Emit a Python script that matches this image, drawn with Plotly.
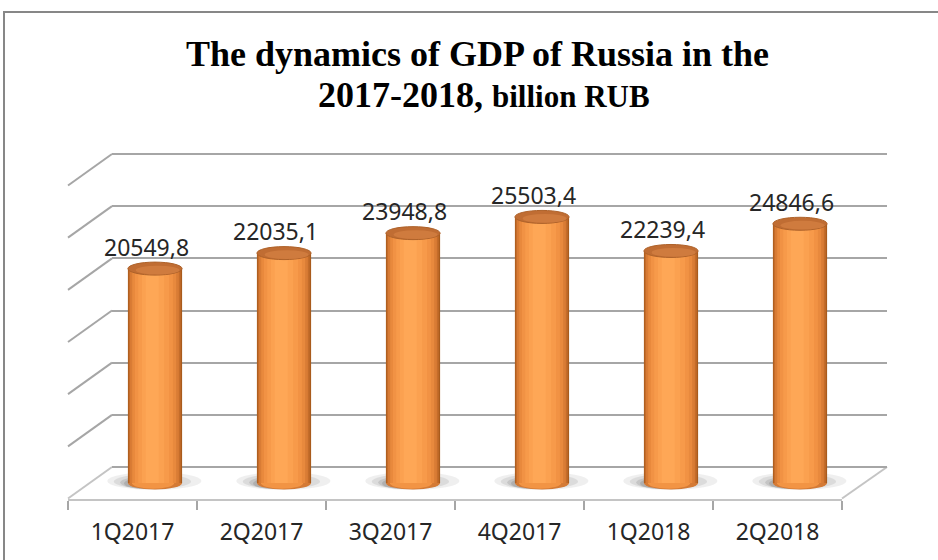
import plotly.graph_objects as go

# ---------------- data ----------------
categories = ["1Q2017", "2Q2017", "3Q2017", "4Q2017", "1Q2018", "2Q2018"]
gdp = [20549.8, 22035.1, 23948.8, 25503.4, 22239.4, 24846.6]
grid_values = [0, 5000, 10000, 15000, 20000, 25000, 30000]
title_line1 = "The dynamics of GDP of Russia in the"
title_line2a = "2017-2018,"
title_line2b = "billion RUB"

# ---------------- geometry (pixels) ----------------
W, H = 938, 560
def px(x): return x / W
def py(y): return 1 - y / H

YMAX = 30000
BACK_L, BACK_R, BACK_BASE, BACK_TOP = 112, 887, 467, 154
FRONT_L, FRONT_R, FRONT_BASE = 68, 842, 498.5
MID_L, MID_R, MID_BASE = 90.5, 864.5, 483
SPAN = BACK_BASE - BACK_TOP
U = YMAX / SPAN          # data units per pixel
BW = 0.42                # bar width in category units
GRID = "#a6a6a6"
FLOOR = "#c4c4c4"
TXT = "#262626"

fig = go.Figure()

# back wall subplot (x/y) - only gridlines
fig.add_trace(go.Scatter(x=[0.5], y=[0], xaxis="x", yaxis="y", mode="markers",
                         marker=dict(opacity=0), hoverinfo="skip", showlegend=False))

# cylinder bars (x2/y2): nested layers give the cylindrical shading
layers = [
    (0.00, 1.00, "#A95B1C"),
    (0.015, 0.975, "#C46C2A"),
    (0.04, 0.94, "#D97C35"),
    (0.08, 0.89, "#E8893D"),
    (0.13, 0.83, "#F19244"),
    (0.19, 0.76, "#F79A4A"),
    (0.26, 0.67, "#FBA150"),
    (0.33, 0.57, "#FEA756"),
]
for l, r, c in layers:
    fig.add_trace(go.Bar(
        x=categories, y=gdp, xaxis="x2", yaxis="y2",
        width=(r - l) * BW, offset=-BW / 2 + l * BW,
        marker=dict(color=c, line=dict(width=0)),
        hoverinfo="skip", showlegend=False))

# front category axis (x3/y3)
fig.add_trace(go.Scatter(x=categories, y=[0.5] * len(categories), xaxis="x3", yaxis="y3",
                         mode="markers", marker=dict(opacity=0), hoverinfo="skip",
                         showlegend=False))

shapes = []
# outer frame
shapes.append(dict(type="rect", xref="paper", yref="paper", x0=px(4), x1=1.05,
                   y0=-0.05, y1=py(12), line=dict(color="#878787", width=2),
                   fillcolor="rgba(0,0,0,0)", layer="below"))
# left side diagonals (one per gridline)
dy = FRONT_BASE - BACK_BASE
for t in grid_values:
    yb = BACK_BASE - t / YMAX * SPAN
    shapes.append(dict(type="line", xref="paper", yref="paper",
                       x0=px(BACK_L), y0=py(yb), x1=px(FRONT_L), y1=py(yb + dy),
                       line=dict(color=GRID if t else FLOOR, width=2), layer="below"))
# right floor diagonal
shapes.append(dict(type="line", xref="paper", yref="paper",
                   x0=px(FRONT_R), y0=py(FRONT_BASE), x1=px(BACK_R), y1=py(BACK_BASE),
                   line=dict(color=FLOOR, width=2), layer="below"))

e = 6.5 * U  # half height of ellipses (data units)
for i, v in enumerate(gdp):
    # soft shadow on floor (falls mostly to the left)
    for a, b, top, bot, op in [(0.37, 0.36, 11, 7, 0.10), (0.32, 0.28, 9, 6, 0.14),
                               (0.27, 0.20, 7, 6, 0.18), (0.24, 0.10, 5, 6, 0.22)]:
        shapes.append(dict(type="circle", xref="x2", yref="y2",
                           x0=i - a, x1=i + b, y0=-bot * U, y1=top * U,
                           fillcolor=f"rgba(100,100,100,{op})", line=dict(width=0),
                           layer="between"))
    # bottom of cylinder
    shapes.append(dict(type="circle", xref="x2", yref="y2",
                       x0=i - BW / 2, x1=i + BW / 2, y0=-e, y1=e,
                       fillcolor="#D47A35", line=dict(width=0), layer="between"))
    shapes.append(dict(type="circle", xref="x2", yref="y2",
                       x0=i - BW / 2 + 0.03, x1=i + BW / 2 - 0.06, y0=-e * 0.9, y1=e,
                       fillcolor="#F29444", line=dict(width=0), layer="between"))
    # top of cylinder
    shapes.append(dict(type="circle", xref="x2", yref="y2",
                       x0=i - BW / 2, x1=i + BW / 2, y0=v - e, y1=v + e,
                       fillcolor="#C06D33", line=dict(color="#AE622A", width=1),
                       layer="above"))
    shapes.append(dict(type="circle", xref="x2", yref="y2",
                       x0=i - BW / 2 + 0.06, x1=i + BW / 2 - 0.02, y0=v - e * 0.9, y1=v + e * 0.45,
                       fillcolor="#CF7B3E", line=dict(width=0), layer="above"))

annotations = []
for i, v in enumerate(gdp):
    annotations.append(dict(
        x=categories[i], y=v, xref="x2", yref="y2", showarrow=False,
        text=f"{v:.1f}".replace(".", ","), yanchor="bottom", xanchor="center",
        xshift=-9, yshift=4,
        font=dict(family="Noto Sans", size=23, color=TXT)))

annotations.append(dict(
    x=px(478), y=py(54), xref="paper", yref="paper", showarrow=False,
    text=f"<b>{title_line1}</b>", xanchor="center", yanchor="middle",
    font=dict(family="Liberation Serif", size=36, color="#000000")))
annotations.append(dict(
    x=px(484), y=py(95), xref="paper", yref="paper", showarrow=False,
    text=f"<b>{title_line2a} <span style='font-size:31px'>{title_line2b}</span></b>",
    xanchor="center", yanchor="middle",
    font=dict(family="Liberation Serif", size=36, color="#000000")))

pad = 3
fig.update_layout(
    width=W, height=H, margin=dict(l=0, r=0, t=0, b=0),
    paper_bgcolor="white", plot_bgcolor="rgba(0,0,0,0)",
    barmode="overlay", showlegend=False,
    xaxis=dict(domain=[px(BACK_L), px(BACK_R)], range=[0, 1], anchor="y",
               visible=False, fixedrange=True),
    yaxis=dict(domain=[py(BACK_BASE + pad), py(BACK_TOP - pad)],
               range=[-pad * U, YMAX + pad * U], anchor="x",
               tickvals=grid_values, showgrid=True, gridcolor=GRID, gridwidth=2,
               showticklabels=False, ticks="", zeroline=False, showline=False),
    xaxis2=dict(domain=[px(MID_L), px(MID_R)], type="category",
                categoryarray=categories, range=[-0.5, 5.5], anchor="y2",
                visible=False),
    yaxis2=dict(domain=[py(FRONT_BASE), py(MID_BASE - SPAN)],
                range=[-(FRONT_BASE - MID_BASE) * U, YMAX], anchor="x2",
                visible=False),
    xaxis3=dict(domain=[px(FRONT_L), px(FRONT_R)], type="category",
                categoryarray=categories, range=[-0.5, 5.5], anchor="y3",
                showline=True, linecolor=FLOOR, linewidth=2,
                ticks="outside", ticklen=9, tickwidth=2, tickcolor=GRID,
                tickson="boundaries", showgrid=False, zeroline=False,
                ticklabelstandoff=12,
                tickfont=dict(family="Noto Sans", size=23, color=TXT)),
    yaxis3=dict(domain=[py(FRONT_BASE), py(FRONT_BASE) + 0.02], range=[0, 1],
                anchor="x3", visible=False),
    shapes=shapes, annotations=annotations,
)

fig.write_html("out.html")
